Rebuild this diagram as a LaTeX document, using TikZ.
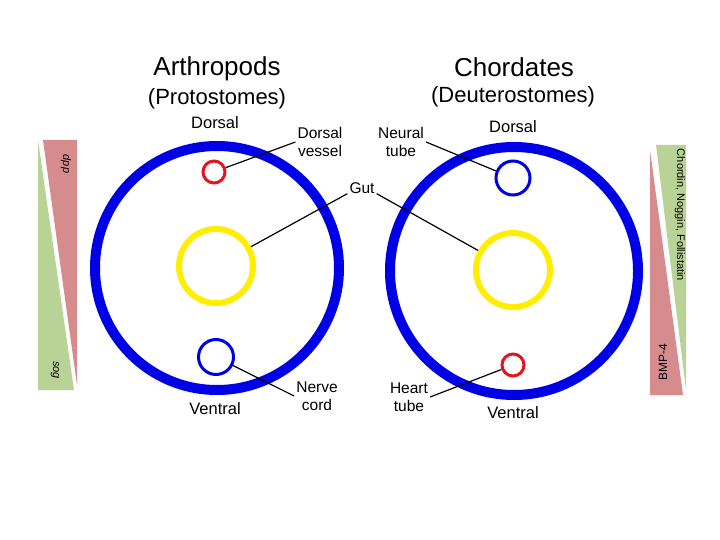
\documentclass[tikz,border=0pt]{standalone}
\usepackage{fontspec}
\setmainfont{Liberation Sans}
\usetikzlibrary{positioning}
\definecolor{bodyblue}{RGB}{0,0,230}
\definecolor{gutyellow}{RGB}{255,238,0}
\definecolor{tubered}{RGB}{230,20,30}
\definecolor{barred}{RGB}{214,140,140}
\definecolor{bargreen}{RGB}{185,210,150}
\tikzset{
  body/.style={circle, draw=bodyblue, line width=10pt, inner sep=0pt},
  gutring/.style={circle, draw=gutyellow, line width=6pt, inner sep=0pt, minimum size=74pt},
  tubering/.style={circle, line width=3pt, inner sep=0pt},
  lbl/.style={font=\fontsize{15.5}{17.5}\selectfont, align=center, inner sep=2pt},
  pointer/.style={line width=1.2pt},
  bartext/.style={font=\fontsize{11}{12}\selectfont, inner sep=0pt}
}
\begin{document}
\begin{tikzpicture}[x=1pt,y=-1pt]
\useasboundingbox (0,0) rectangle (720,540);

% Marking titles
\node (arthro) at (217,69) {\fontsize{26}{28}\selectfont Arthropods};
\node (proto) at (217,99) {\fontsize{22}{24}\selectfont (Protostomes)};
\node (chord) at (514,67) {\fontsize{26}{28}\selectfont Chordates};
\node (deutero) at (513,97) {\fontsize{22}{24}\selectfont (Deuterostomes)};

% Drawing left gradient bar
\fill [barred] (43,140) -- (77,140) -- (77,385) -- cycle;
\fill [bargreen] (38,140) -- (38,390) -- (74,390) -- cycle;
\node [bartext, rotate=-90] (dpp) at (66,164) {\itshape dpp};
\node [bartext, rotate=-90] (sog) at (55,370) {\itshape sog};

% Drawing right gradient bar
\fill [bargreen] (656,145) -- (686,145) -- (686,390) -- cycle;
\fill [barred] (650,150) -- (650,395) -- (683,395) -- cycle;
\node [bartext, rotate=-90] (chordin) at (680,215) {Chordin, Noggin, Follistatin};
\node [bartext, rotate=90, font=\fontsize{12}{13}\selectfont] (bmp) at (663,362) {BMP-4};

% Drawing arthropod body
\node [body, minimum size=244pt] (abody) at (217,268) {};
\node [gutring] (agut) at (216,266) {};
\node [tubering, draw=tubered, minimum size=22pt] (vessel) at (214,172) {};
\node [tubering, draw=bodyblue, minimum size=35pt] (nerve) at (216,357) {};
\node [lbl, font=\fontsize{16.5}{18}\selectfont] (adorsal) at (215,123) {Dorsal};
\node [lbl, font=\fontsize{16.5}{18}\selectfont] (aventral) at (215,409) {Ventral};

% Drawing chordate body
\node [body, minimum size=248pt] (cbody) at (514,271) {};
\node [gutring] (cgut) at (513,270) {};
\node [tubering, draw=bodyblue, minimum size=34pt] (neural) at (513,178) {};
\node [tubering, draw=tubered, minimum size=22pt] (heart) at (513,365) {};
\node [lbl, font=\fontsize{16.5}{18}\selectfont] (cdorsal) at (513,127) {Dorsal};
\node [lbl, font=\fontsize{16.5}{18}\selectfont] (cventral) at (513,413) {Ventral};

% Marking structure labels
\node [lbl] (vessellab) at (320,142) {Dorsal\\vessel};
\node [lbl] (neurallab) at (401,142) {Neural\\tube};
\node [lbl] (gutlab) at (362,188) {Gut};
\node [lbl] (nervelab) at (317,396) {Nerve\\cord};
\node [lbl] (heartlab) at (409,397) {Heart\\tube};

% Drawing pointers
\draw [pointer] (vessellab.west) -- (vessel);
\draw [pointer] ([yshift=2pt]gutlab.south west) -- (agut);
\draw [pointer] ([yshift=2pt]gutlab.south east) -- (cgut);
\draw [pointer] (neurallab.east) -- (neural);
\draw [pointer] (nervelab.west) -- (nerve);
\draw [pointer] (heartlab.east) -- (heart);
\end{tikzpicture}
\end{document}
